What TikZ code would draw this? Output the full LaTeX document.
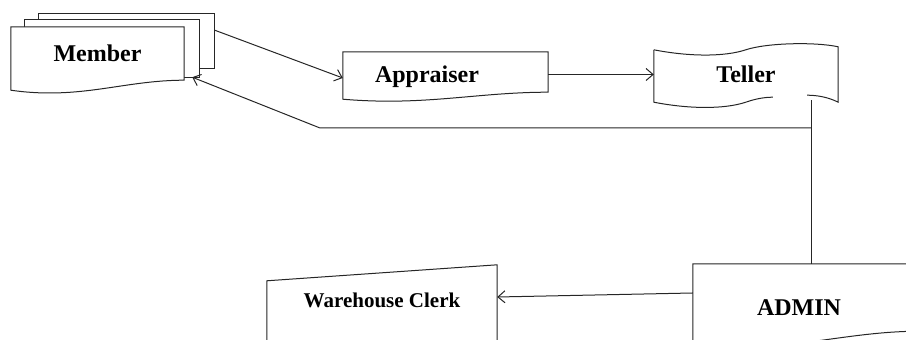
\documentclass[tikz,border=0pt]{standalone}
\usepackage{fontspec}
\setmainfont{Liberation Serif}
\usepackage{tikz}
\usetikzlibrary{arrows.meta,calc,backgrounds}

\tikzset{
  box/.style={inner sep=0pt, font=\bfseries\fontsize{24}{24}\selectfont},
  wire/.style={line width=1pt, draw=black!85},
  outline/.style={wire, fill=white},
  link/.style={wire, -{Straight Barb[length=7pt,width=12pt]}}
}
\newcommand{\docpath}[2]{%
  \draw[outline] ([yshift=-#2]#1.south west) -- (#1.north west) -- (#1.north east) -- (#1.south east)
    .. controls ($(#1.south east)!0.35!(#1.south west)$) and ($(#1.south west)!0.4!(#1.south east)+(0,-2*#2)$)
    .. ([yshift=-#2]#1.south west) -- cycle;}

\begin{document}
\begin{tikzpicture}[x=1pt, y=1pt]
  \useasboundingbox (0,0) rectangle (906,340);
  \node[box, minimum width=175, minimum height=54] (member2) at (126.5,299) {};
  \node[box, minimum width=174, minimum height=57] (member1) at (112,291.5) {};
  \node[box, minimum width=173, minimum height=53] (member) at (97.5,286.5) {Member};
  \node[box, text width=141pt, inner xsep=32pt, align=left, text height=31pt, text depth=9pt] (appraiser) at (445.5,268) {Appraiser};
  \node[box, minimum width=184, minimum height=55] (teller) at (746,265.5) {Teller};
  \node[box, text width=99pt, inner xsep=64pt, align=left, text height=52pt, text depth=15pt] (admin) at (806.5,42.5) {ADMIN};
  \node[box, minimum width=230, minimum height=70, font=\bfseries\fontsize{21}{21}\selectfont] (clerk) at (382,40) {Warehouse Clerk};

  \begin{scope}[on background layer]
    \foreach \p in {member2,member1}
      \draw[outline] (\p.south west) rectangle (\p.north east);
    \docpath{member}{10}
    \docpath{appraiser}{7}
    \docpath{admin}{12}
    \draw[wire] ([yshift=-3]teller.north west) .. controls +(36,-7) and +(-21,-7) .. ([xshift=92,yshift=-3]teller.north west)
      .. controls +(21,7) and +(-23,5) .. (teller.north east) -- (teller.south east)
      .. controls +(-10,5) and +(10,0) .. ([xshift=-31,yshift=7]teller.south east);
    \draw[wire] ([xshift=119,yshift=5]teller.south west) .. controls +(-8,0) and +(10,3.5) .. ([xshift=92]teller.south west)
      .. controls +(-21,-7) and +(36,-7) .. (teller.south west) -- ([yshift=-3]teller.north west);
    \draw[outline] ([yshift=-20]clerk.south west) -- ([yshift=-16]clerk.north west) -- (clerk.north east) -- ([yshift=-20]clerk.south east);
  \end{scope}

  \draw[link] ([yshift=11]member2.east) -- ([yshift=-6]appraiser.west);
  \draw[link] (appraiser.east |- teller.west) -- (teller.west);
  \coordinate (tap) at ([xshift=-27,yshift=2]teller.south east);
  \coordinate (bend) at (320,212);
  \coordinate (split) at (tap |- bend);
  \draw[wire] (tap) -- (tap |- admin.north);
  \draw[link] (split) -- (bend) -- ([xshift=-7]member1.south east);
  \draw[link] ([yshift=4.5]admin.west) -- ([yshift=3]clerk.east);
\end{tikzpicture}
\end{document}
